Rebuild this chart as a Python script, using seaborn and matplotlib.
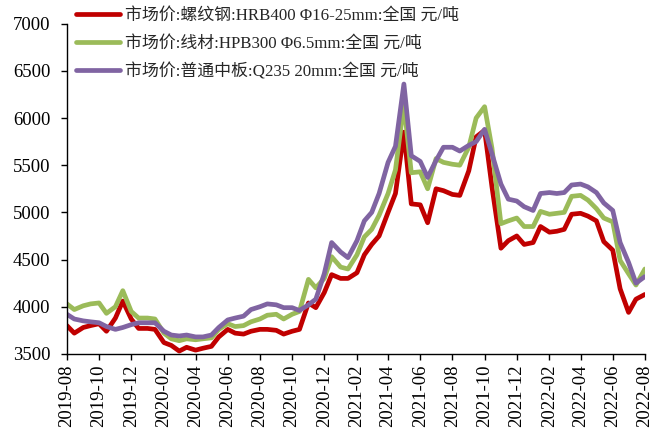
import pandas as pd
import seaborn as sns
import matplotlib.pyplot as plt
import matplotlib.dates as mdates

# 半月频率的价格数据 (元/吨)
dates = pd.date_range('2019-08-01', '2022-08-01', freq='SMS')

rebar = [3800, 3720, 3780, 3800, 3820, 3740, 3880, 4060, 3870, 3770,
         3770, 3760, 3620, 3590, 3530, 3570, 3540, 3560, 3580, 3680,
         3760, 3720, 3710, 3740, 3760, 3760, 3750, 3710, 3740, 3760,
         4040, 3990, 4150, 4340, 4300, 4300, 4360, 4550, 4660, 4750,
         5000, 5200, 5850, 5090, 5080, 4890, 5250, 5230, 5190, 5180,
         5440, 5800, 5870, 5270, 4620, 4700, 4750, 4660, 4680, 4850,
         4790, 4800, 4820, 4980, 4990, 4960, 4910, 4690, 4600, 4190,
         3940, 4080, 4130]

wire = [4030, 3970, 4010, 4030, 4040, 3930, 4000, 4170, 3950, 3880,
        3880, 3870, 3720, 3660, 3640, 3660, 3650, 3660, 3670, 3760,
        3820, 3790, 3800, 3840, 3870, 3910, 3920, 3870, 3920, 3950,
        4290, 4200, 4300, 4530, 4420, 4400, 4550, 4740, 4820, 4970,
        5200, 5450, 6150, 5420, 5430, 5250, 5570, 5530, 5510, 5500,
        5690, 6000, 6120, 5680, 4880, 4910, 4940, 4850, 4850, 5010,
        4980, 4990, 5000, 5170, 5180, 5130, 5040, 4940, 4900, 4490,
        4350, 4230, 4400]

plate = [3920, 3870, 3850, 3840, 3830, 3790, 3760, 3780, 3810, 3830,
         3830, 3830, 3740, 3700, 3690, 3700, 3680, 3680, 3700, 3780,
         3860, 3880, 3900, 3970, 4000, 4030, 4020, 3990, 3990, 3960,
         4020, 4080, 4350, 4680, 4580, 4520, 4700, 4910, 5000, 5200,
         5530, 5700, 6360, 5600, 5540, 5370, 5550, 5690, 5690, 5650,
         5710, 5750, 5880, 5620, 5300, 5140, 5120, 5060, 5020, 5200,
         5210, 5200, 5210, 5290, 5300, 5270, 5210, 5100, 5020, 4680,
         4470, 4250, 4320]

names = ['市场价:螺纹钢:HRB400 Φ16-25mm:全国 元/吨',
         '市场价:线材:HPB300 Φ6.5mm:全国 元/吨',
         '市场价:普通中板:Q235 20mm:全国 元/吨']
colors = ['#C00000', '#9BBB59', '#8064A2']

df = pd.DataFrame({'date': dates, names[0]: rebar, names[1]: wire, names[2]: plate})
df = df.melt(id_vars='date', var_name='series', value_name='price')

sns.set_style('white')
plt.rcParams['font.family'] = ['Liberation Serif', 'Noto Sans CJK SC']
plt.rcParams['axes.unicode_minus'] = False

fig = plt.figure(figsize=(6.69, 4.38), dpi=100)
ax = fig.add_axes([0.100, 0.192, 0.864, 0.754])
sns.lineplot(data=df, x='date', y='price', hue='series', hue_order=names,
             palette=colors, linewidth=3.4, ax=ax)

ax.set_xlim(dates[0], dates[-1])
ax.set_ylim(3500, 7000)
ax.set_yticks(range(3500, 7001, 500))
ax.xaxis.set_major_locator(mdates.MonthLocator(bymonth=[2, 4, 6, 8, 10, 12]))
ax.xaxis.set_major_formatter(mdates.DateFormatter('%Y-%m'))
plt.setp(ax.get_xticklabels(), rotation=90)
ax.tick_params(axis='both', labelsize=13.5, length=4, width=1, direction='out',
               bottom=True, left=True, colors='black')
ax.tick_params(axis='y', pad=8)
ax.set_xlabel('')
ax.set_ylabel('')
for side in ['top', 'right']:
    ax.spines[side].set_visible(False)
for side in ['left', 'bottom']:
    ax.spines[side].set_color('black')
    ax.spines[side].set_linewidth(1)

ax.legend(loc='upper left', bbox_to_anchor=(0.104, 0.997), bbox_transform=fig.transFigure,
          frameon=False, fontsize=12.2, handlelength=2.6, handletextpad=0.3,
          labelspacing=0.68, borderaxespad=0)

plt.savefig('out.png', dpi=100)
